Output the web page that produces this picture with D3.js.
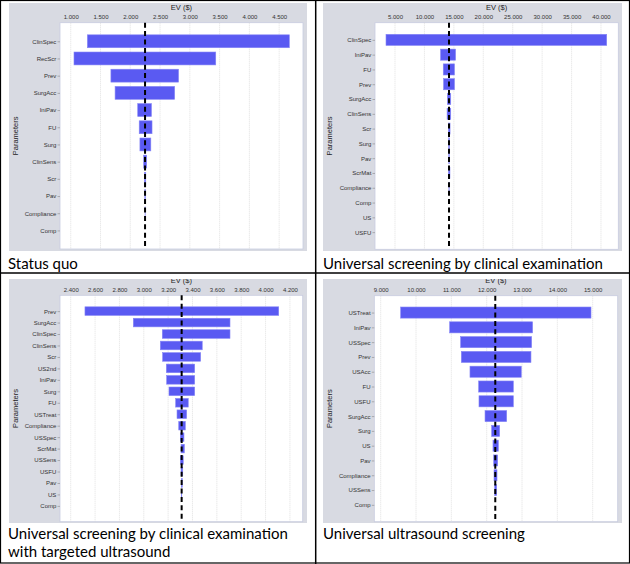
<!DOCTYPE html>
<html><head><meta charset="utf-8">
<script src="https://cdn.jsdelivr.net/npm/d3@7"></script>
<style>body{margin:0;background:#fff}svg{display:block}</style>
</head><body>
<svg id="c" width="630" height="564"></svg>
<script>
// ---------- DATA ----------
// Panel 1: Status quo
const sqParams = ["ClinSpec","RecScr","Prev","SurgAcc","IniPav","FU","Surg","ClinSens","Scr","Pav","Compliance","Comp"];
const sqLow    = [1280,1055,1675,1745,2125,2150,2162,2225,2238,2244,2248,2248];
const sqHigh   = [4670,3435,2810,2745,2355,2365,2345,2275,2260,2254,2250,2248];
const sqBase   = 2248;
const sqTicks  = [1000,1500,2000,2500,3000,3500,4000,4500];

// Panel 2: Universal screening by clinical examination
const ucParams = ["ClinSpec","IniPav","FU","Prev","SurgAcc","ClinSens","Scr","Surg","Pav","ScrMat","Compliance","Comp","US","USFU"];
const ucLow    = [3470,12740,13200,13250,13900,13850,14070,14120,14140,14080,14160,14175,14175,14175];
const ucHigh   = [40970,15290,15100,15100,14470,14470,14350,14250,14220,14330,14200,14175,14175,14175];
const ucBase   = 14175;
const ucTicks  = [5000,10000,15000,20000,25000,30000,35000,40000];

// Panel 3: Universal screening by clinical examination with targeted ultrasound
const utParams = ["Prev","SurgAcc","ClinSpec","ClinSens","Scr","US2nd","IniPav","Surg","FU","USTreat","Compliance","USSpec","ScrMat","USSens","USFU","Pav","US","Comp"];
const utLow    = [2517,2914,3152,3136,3155,3185,3188,3207,3262,3273,3287,3300,3306,3300,3306,3308,3311,3311];
const utHigh   = [4108,3708,3708,3480,3467,3418,3418,3418,3365,3352,3341,3330,3333,3324,3320,3316,3312,3311];
const utBase   = 3311;
const utTicks  = [2400,2600,2800,3000,3200,3400,3600,3800,4000,4200];

// Panel 4: Universal ultrasound screening
const usParams = ["USTreat","IniPav","USSpec","Prev","USAcc","FU","USFU","SurgAcc","Surg","US","Pav","Compliance","USSens","Comp"];
const usLow    = [9566,10952,11263,11282,11527,11773,11782,11953,12141,12178,12198,12207,12226,12243];
const usHigh   = [14952,13300,13272,13253,12979,12754,12754,12566,12367,12330,12311,12292,12282,12243];
const usBase   = 12243;
const usTicks  = [9000,10000,11000,12000,13000,14000,15000];

const captions = [
  ["Status quo"],
  ["Universal screening by clinical examination"],
  ["Universal screening by clinical examination","with targeted ultrasound"],
  ["Universal ultrasound screening"]
];

// ---------- LAYOUT ----------
const fmt = d3.formatLocale({decimal:",",thousands:".",grouping:[3],currency:["$",""]}).format(",");
const svg = d3.select("#c");
svg.append("rect").attr("width",630).attr("height",564).attr("fill","#fff");

const panels = [
  {params:sqParams,low:sqLow,high:sqHigh,base:sqBase,ticks:sqTicks,domain:[820,4900],
   gx:9,gy:3,gw:298,gh:248,left:60,right:303,top:22.7,bottom:249,pad:1.08,cap:captions[0],capX:8,capY:269},
  {params:ucParams,low:ucLow,high:ucHigh,base:ucBase,ticks:ucTicks,domain:[1600,42940],
   gx:323,gy:3,gw:299,gh:248,left:375,right:618.3,top:22.7,bottom:249.3,pad:1.16,cap:captions[1],capX:323,capY:269},
  {params:utParams,low:utLow,high:utHigh,base:utBase,ticks:utTicks,domain:[2312,4305],
   gx:9,gy:279,gw:298,gh:244,left:60,right:302.7,top:295.3,bottom:521.7,pad:1.38,cap:captions[2],capX:8,capY:539.3},
  {params:usParams,low:usLow,high:usHigh,base:usBase,ticks:usTicks,domain:[8819,15708],
   gx:323,gy:279,gw:299,gh:244,left:374.3,right:617.7,top:295.7,bottom:521.7,pad:1.14,cap:captions[3],capX:323,capY:539.3}
];

const smallFont = "'Liberation Sans', Arial, sans-serif";

panels.forEach((p,i)=>{
  const clipId = "clip"+i;
  svg.append("clipPath").attr("id",clipId).append("rect")
    .attr("x",p.gx).attr("y",p.gy).attr("width",p.gw).attr("height",p.gh);
  const g = svg.append("g").attr("clip-path",`url(#${clipId})`);
  g.append("rect").attr("x",p.gx).attr("y",p.gy).attr("width",p.gw).attr("height",p.gh).attr("fill","#d8dae2");

  const x = d3.scaleLinear().domain(p.domain).range([p.left,p.right]);
  const y = d3.scalePoint().domain(p.params).range([p.top,p.bottom]).padding(p.pad);
  const bh = y.step()*0.75;

  g.append("rect").attr("x",p.left).attr("y",p.top).attr("width",p.right-p.left).attr("height",p.bottom-p.top)
    .attr("fill","#fff").attr("stroke","#c8cce0").attr("stroke-width",0.8);

  g.selectAll(".grid").data(p.ticks).join("line")
    .attr("x1",d=>x(d)).attr("x2",d=>x(d)).attr("y1",p.top).attr("y2",p.bottom)
    .attr("stroke","#d4d4d4").attr("stroke-width",0.7).attr("stroke-dasharray","1,1");

  const ax = g.append("g").attr("transform",`translate(0,${p.top})`)
    .call(d3.axisTop(x).tickValues(p.ticks).tickFormat(fmt).tickSize(0).tickPadding(3.6));
  ax.select(".domain").remove();
  ax.selectAll("text").attr("font-family",smallFont).attr("font-size",6).attr("fill","#333");

  const ay = g.append("g").attr("transform",`translate(${p.left},0)`)
    .call(d3.axisLeft(y).tickSize(2.5).tickPadding(1.2));
  ay.select(".domain").remove();
  ay.selectAll("line").attr("stroke","#888").attr("stroke-width",0.6);
  ay.selectAll("text").attr("font-family",smallFont).attr("font-size",6).attr("fill","#333");

  g.selectAll(".bar").data(p.params).join("rect")
    .attr("x",(d,k)=>x(Math.min(p.low[k],p.high[k])))
    .attr("width",(d,k)=>Math.abs(x(p.high[k])-x(p.low[k])))
    .attr("y",d=>y(d)-bh/2).attr("height",bh)
    .attr("fill","#5a5af2").attr("stroke","#8585f6").attr("stroke-width",0.6);

  g.append("line").attr("x1",x(p.base)).attr("x2",x(p.base)).attr("y1",p.top).attr("y2",p.bottom)
    .attr("stroke","#000").attr("stroke-width",2).attr("stroke-dasharray","5,3.4");

  g.append("text").attr("x",(p.left+p.right)/2).attr("y",p.top-12.5).attr("text-anchor","middle")
    .attr("font-family",smallFont).attr("font-size",7.5).attr("fill","#222").text("EV ($)");

  const cy = (p.top+p.bottom)/2;
  g.append("text").attr("transform",`translate(${p.gx+8.5},${cy}) rotate(-90)`).attr("text-anchor","middle")
    .attr("font-family",smallFont).attr("font-size",7.5).attr("fill","#222").text("Parameters");

  p.cap.forEach((line,j)=>{
    svg.append("text").attr("x",p.capX).attr("y",p.capY+j*18).attr("font-family","Lato, 'Open Sans', sans-serif")
      .attr("font-size",15).attr("fill","#000").text(line);
  });
});

// dividers and frame
svg.append("line").attr("x1",0).attr("x2",630).attr("y1",273).attr("y2",273).attr("stroke","#000").attr("stroke-width",1.5);
svg.append("line").attr("x1",315.7).attr("x2",315.7).attr("y1",0).attr("y2",564).attr("stroke","#000").attr("stroke-width",1.5);
svg.append("rect").attr("x",0.5).attr("y",0.5).attr("width",629).attr("height",562.5)
  .attr("fill","none").attr("stroke","#000").attr("stroke-width",1.2);
</script>
</body></html>
